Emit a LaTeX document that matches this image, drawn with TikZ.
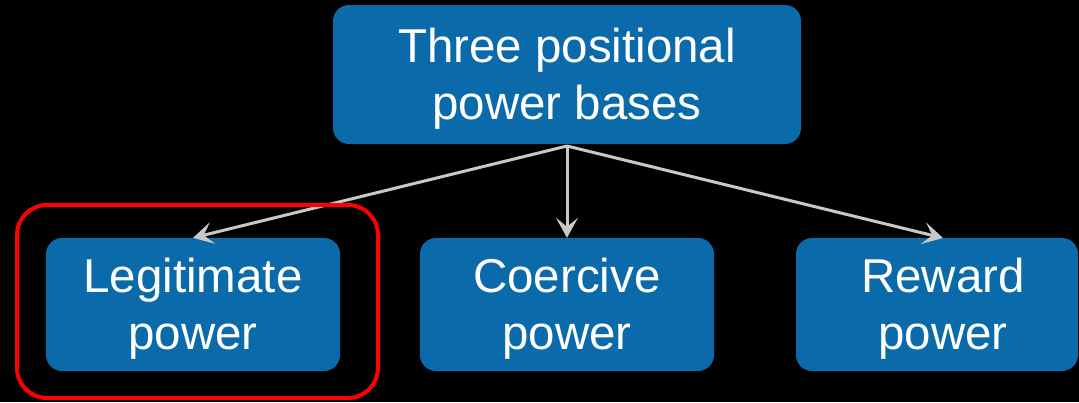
\documentclass[tikz,border=0pt]{standalone}
\usepackage{fontspec}
\setmainfont{Liberation Sans}
\usetikzlibrary{arrows.meta}
\definecolor{boxblue}{HTML}{0B6AAA}
\definecolor{arrgray}{HTML}{C8C8C8}
\definecolor{hlred}{HTML}{FF0000}
\begin{document}
\begin{tikzpicture}[x=1pt,y=-1pt,
  bbox/.style={fill=boxblue, rounded corners=16pt, minimum width=294pt, minimum height=133pt, inner sep=0pt},
  btext/.style={text=white, align=center, inner sep=0pt, font=\fontsize{47.5}{57}\selectfont},
  conn/.style={draw=arrgray, line width=3pt, -{Stealth[length=20pt,width=22pt,inset=9pt]}}]
\fill[black] (0,0) rectangle (1079,402);
\useasboundingbox (0,0) rectangle (1079,402);
\node[bbox, minimum width=468pt, minimum height=139pt] (top) at (567,74.5) {};
\node[btext] (topt) at (567,79) {Three positional\\power bases};
\node[bbox] (leg) at (193,304.5) {};
\node[btext] (legt) at (193,309) {Legitimate\\power};
\node[bbox] (coe) at (567,304.5) {};
\node[btext] (coet) at (567,309) {Coercive\\power};
\node[bbox, minimum width=282pt] (rew) at (937,304.5) {};
\node[btext] (rewt) at (943,309) {Reward\\power};
\coordinate (src) at (567,146);
\coordinate (rtip) at (943,238);
\draw[conn] (src) -- (leg.north);
\draw[conn] (src) -- (coe.north);
\draw[conn] (src) -- (rtip);
\node[draw=hlred, line width=4pt, rounded corners=30pt, minimum width=361pt, minimum height=193pt, inner sep=0pt] (hl) at (197.5,301.5) {};
\end{tikzpicture}
\end{document}
